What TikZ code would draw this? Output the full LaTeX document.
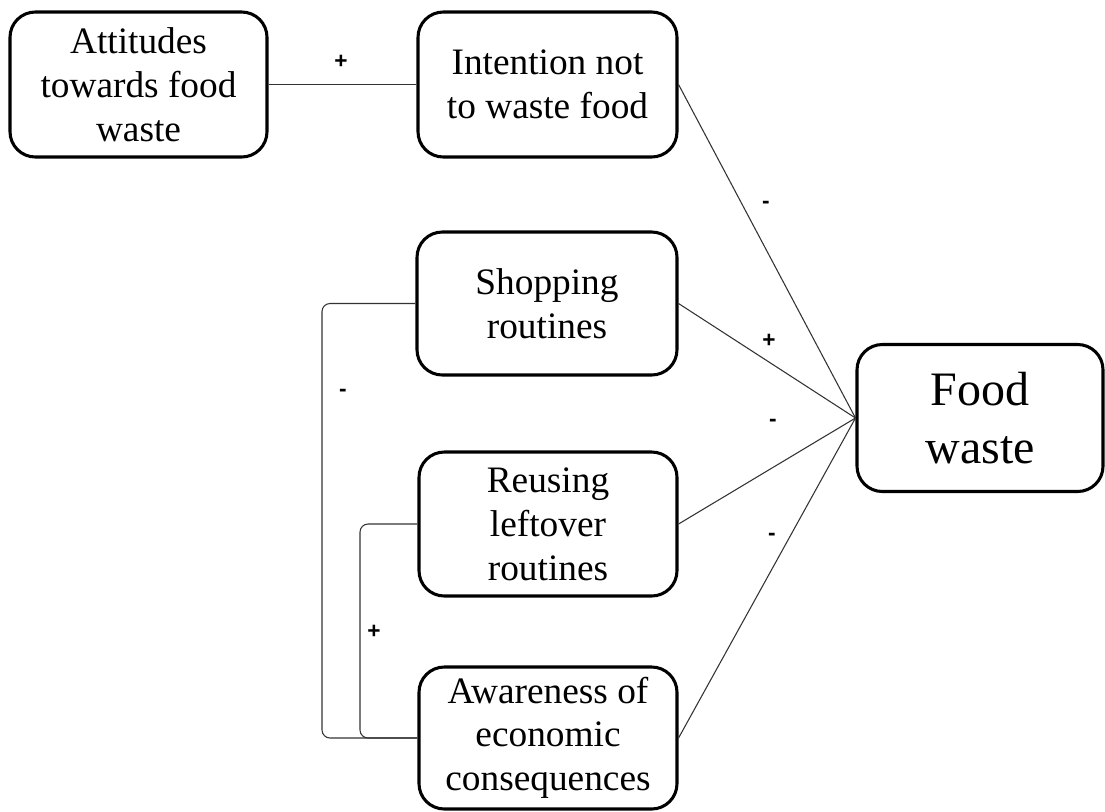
\documentclass[tikz,border=0pt]{standalone}
\usepackage{fontspec}
\setmainfont{Liberation Serif}
\setsansfont{Liberation Sans}
\begin{document}
\begin{tikzpicture}[x=0.75pt,y=-0.75pt,
  box/.style={draw=black,line width=2.3pt,rounded corners=19pt,align=center,inner sep=0pt,
    font=\fontsize{28}{33}\selectfont},
  link/.style={draw=black!80,line width=0.8pt},
  sign/.style={font=\sffamily\bfseries\fontsize{17}{18}\selectfont,inner sep=0pt}]
\useasboundingbox (0,0) rectangle (1105,811);
\node[box,minimum width=192.75pt,minimum height=108.75pt] (att) at (138.5,84.5) {Attitudes\\towards food\\waste};
\node[box,minimum width=194.25pt,minimum height=108.75pt] (int) at (547.5,84.5) {Intention not\\to waste food};
\node[box,minimum width=195pt,minimum height=107.25pt] (shop) at (547,303.5) {Shopping\\routines};
\node[box,minimum width=193.5pt,minimum height=108pt] (reuse) at (548,524) {Reusing\\leftover\\routines};
\node[box,minimum width=193.5pt,minimum height=106.5pt] (aware) at (548,738) {\raisebox{-5pt}{\begin{tabular}{@{}c@{}}Awareness of\\[-0.4pt]economic\\[-0.4pt]consequences\end{tabular}}};
\node[box,minimum width=184.5pt,minimum height=110.25pt,font=\fontsize{36}{43}\selectfont] (food) at (980,418) {Food\\waste};
\coordinate (ob) at (322,0);
\coordinate (ib) at (360,0);
\draw[link] (att.east) -- (int.east -| int.west);
\draw[link] (int.east) -- (food.west);
\draw[link] (shop.east) -- (food.west);
\draw[link] (reuse.east) -- (food.west);
\draw[link] (aware.east) -- (food.west);
\draw[link,rounded corners=6pt] (shop.west) -- (shop.west -| ob) -- (aware.west -| ob) -- (aware.west);
\draw[link,rounded corners=6pt] (reuse.west) -- (reuse.west -| ib) -- (aware.west -| ib) -- (aware.west);
\node[sign] (s1) at (341,62) {+};
\node[sign] (s2) at (766,205) {-};
\node[sign] (s3) at (769,341) {+};
\node[sign] (s4) at (773,423) {-};
\node[sign] (s5) at (772,537) {-};
\node[sign] (s6) at (343,393) {-};
\node[sign] (s7) at (374,632) {+};
\end{tikzpicture}
\end{document}
